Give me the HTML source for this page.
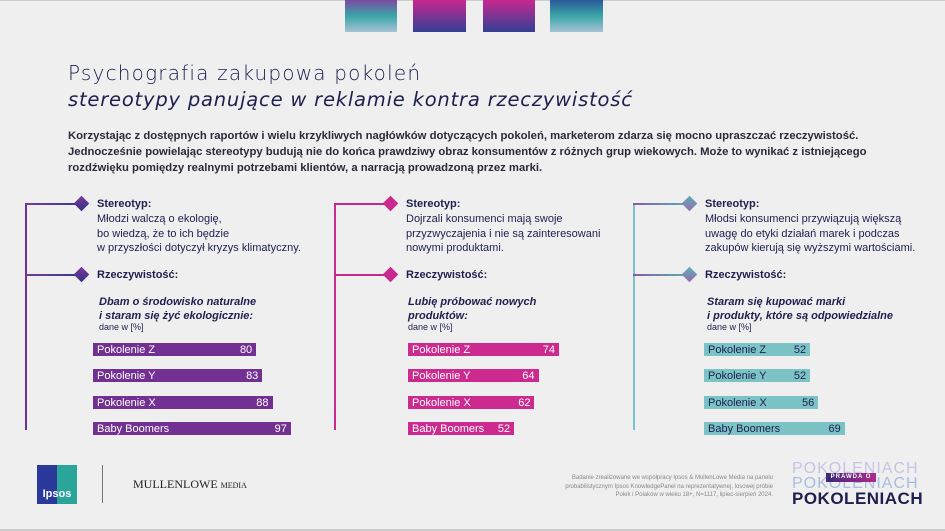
<!DOCTYPE html>
<html><head><meta charset="utf-8"><style>
body{margin:0;width:945px;height:531px;overflow:hidden;background:#efefef;font-family:"Liberation Sans",sans-serif;position:relative;color:#1d1f4e}
.abs{position:absolute}
.t{font-size:11px;line-height:14.5px;color:#1d1f4e}
.b{font-weight:bold}
.q{font-weight:bold;font-style:italic;font-size:11px;line-height:14px}
.bar{position:absolute;height:13px;font-size:11px;line-height:14px;box-sizing:border-box;padding:0 4px;display:flex;justify-content:space-between}
</style></head><body>
<div class="abs" style="left:0;top:0;width:945px;height:1px;background:#ccc"></div>
<div class="abs" style="left:345px;top:0;width:52px;height:32px;background:linear-gradient(#7a4aa0,#3aa6a8 50%,#a6c2d6)"></div>
<div class="abs" style="left:413px;top:0;width:53px;height:32px;background:linear-gradient(#c8288f,#333f96)"></div>
<div class="abs" style="left:483px;top:0;width:52px;height:32px;background:linear-gradient(#c8288f,#333f96)"></div>
<div class="abs" style="left:550px;top:0;width:53px;height:32px;background:linear-gradient(#2a5a9a,#3aa6a8 50%,#a6c2d6)"></div>

<div class="abs" style="left:68px;top:61px;font-size:20px;color:#1d1f4e;font-family:'DejaVu Sans',sans-serif;font-weight:200;letter-spacing:1.2px">Psychografia zakupowa pokoleń</div>
<div class="abs" style="left:68px;top:88px;font-size:19.5px;font-style:italic;color:#1d1f4e;font-family:'DejaVu Sans',sans-serif;letter-spacing:0.8px">stereotypy panujące w reklamie kontra rzeczywistość</div>
<div class="abs b" style="left:68px;top:128px;width:860px;font-size:11.3px;line-height:16px;color:#2a2a3a">Korzystając z dostępnych raportów i wielu krzykliwych nagłówków dotyczących pokoleń, marketerom zdarza się mocno upraszczać rzeczywistość. Jednocześnie powielając stereotypy budują nie do końca prawdziwy obraz konsumentów z różnych grup wiekowych. Może to wynikać z istniejącego rozdźwięku pomiędzy realnymi potrzebami klientów, a narracją prowadzoną przez marki.</div>

<div id="cols"></div>

<div class="abs" style="left:37px;top:465px;width:40px;height:39px;background:linear-gradient(90deg,#2b3a9a 50%,#2aa59a 50%);color:#fff;font-size:11px;font-weight:bold;text-align:center;line-height:58px">Ipsos</div>
<div class="abs" style="left:102px;top:465px;width:1px;height:38px;background:#777"></div>
<div class="abs" style="left:133px;top:477px;font-family:'Liberation Serif',serif;font-size:12px;color:#222">MULLENLOWE <span style="font-size:8px">MEDIA</span></div>
<div class="abs" style="left:555px;top:474px;width:218px;text-align:right;font-size:6px;line-height:8.5px;color:#888">Badanie zrealizowane we współpracy Ipsos &amp; MullenLowe Media na panelu probabilistycznym Ipsos KnowledgePanel na reprezentatywnej, losowej próbie Polek i Polaków w wieku 18+, N=1117, lipiec-sierpień 2024.</div>
<div class="abs" style="left:792px;top:460px;width:130px;height:50px">
<div class="abs" style="left:0;top:0;font-size:16px;letter-spacing:1px;color:#c9c4e2">POKOLENIACH</div>
<div class="abs" style="left:0;top:15px;font-size:16px;letter-spacing:1px;color:#a7bde0">POKOLENIACH</div>
<div class="abs" style="left:0;top:29px;font-size:17px;font-weight:bold;letter-spacing:0.5px;color:#1d1f4e">POKOLENIACH</div>
<div class="abs" style="left:34px;top:13px;width:50px;height:9px;background:linear-gradient(90deg,#3a2a7a,#b02a8a);color:#fff;font-size:6px;font-weight:bold;text-align:center;line-height:9px;letter-spacing:1px">PRAWDA O</div>
</div>
<div class="abs" style="left:0;top:529px;width:945px;height:2px;background:#ccc"></div>

<script>
var groups = ["Pokolenie Z","Pokolenie Y","Pokolenie X","Baby Boomers"];
var valuesEco = [80,83,88,97];
var valuesNew = [74,64,62,52];
var valuesEthic = [52,52,56,69];
var stereotypes = ["Młodzi walczą o ekologię,<br>bo wiedzą, że to ich będzie<br>w przyszłości dotyczył kryzys klimatyczny.","Dojrzali konsumenci mają swoje<br>przyzwyczajenia i nie są zainteresowani<br>nowymi produktami.","Młodsi konsumenci przywiązują większą<br>uwagę do etyki działań marek i podczas<br>zakupów kierują się wyższymi wartościami."];
var questions = ["Dbam o środowisko naturalne<br>i staram się żyć ekologicznie:","Lubię próbować nowych<br>produktów:","Staram się kupować marki<br>i produkty, które są odpowiedzialne"];
var series=[valuesEco,valuesNew,valuesEthic];
var cfg=[{x:25,bx:93,line:"linear-gradient(90deg,#7a3a9a,#3a3a8a)",dia:"linear-gradient(135deg,#7a3aa0,#33317e)",bar:"#723092",tc:"#fff"},
{x:334,bx:408,line:"#c02a8a",dia:"#c8288f",bar:"#cc2a8e",tc:"#fff"},
{x:633,bx:704,line:"linear-gradient(90deg,#8a5aa8,#5aaab0)",dia:"linear-gradient(135deg,#5ab0b8,#9a6ab0)",bar:"#7cc3c6",tc:"#1d1f4e"}];
var K=2.04;
function xs(v){return v*K;}
var root=document.getElementById('cols');
var h='';
cfg.forEach(function(c,i){
 var x=c.x;
 h+='<div class="abs" style="left:'+x+'px;top:203px;width:1.5px;height:227px;background:'+c.bar+'"></div>';
 [204,275].forEach(function(y,j){
  h+='<div class="abs" style="left:'+x+'px;top:'+(y-1)+'px;width:52px;height:1.5px;background:'+c.line+'"></div>';
  h+='<div class="abs" style="left:'+(x+51)+'px;top:'+(y-6)+'px;width:11px;height:11px;transform:rotate(45deg);background:'+c.dia+'"></div>';
 });
 var tx=x+72;
 h+='<div class="abs t b" style="left:'+tx+'px;top:197px">Stereotyp:</div>';
 h+='<div class="abs t" style="left:'+tx+'px;top:212px">'+stereotypes[i]+'</div>';
 h+='<div class="abs t b" style="left:'+tx+'px;top:268px">Rzeczywistość:</div>';
 h+='<div class="abs q" style="left:'+(tx+2)+'px;top:295px">'+questions[i]+'</div>';
 h+='<div class="abs" style="left:'+(tx+2)+'px;top:322px;font-size:9px">dane w [%]</div>';
 h+='<div id="bars'+i+'"></div>';
});
root.innerHTML=h;
cfg.forEach(function(c,i){
 var host=document.getElementById('bars'+i);
 series[i].forEach(function(v,k){
  var d=document.createElement('div');
  d.className='bar';
  
  
  d.style.left=c.bx+'px';
  d.style.top=(343+k*26.3)+'px';
  d.style.width=xs(v)+'px';
  d.style.background=c.bar;
  d.style.color=c.tc;
  d.innerHTML='<span>'+groups[k]+'</span><span>'+v+'</span>';
  host.appendChild(d);
 });
});
</script>
</body></html>
